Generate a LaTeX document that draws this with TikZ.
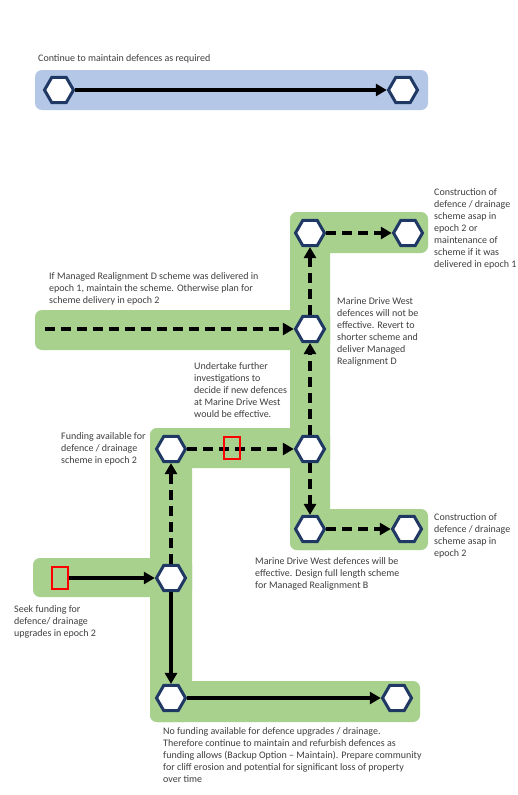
\documentclass[tikz,border=0pt]{standalone}
\usepackage{fontspec}
\setmainfont{Carlito}
\usetikzlibrary{arrows.meta,shapes.geometric}
\definecolor{bandgreen}{HTML}{A9D18E}
\definecolor{bandblue}{HTML}{B4C7E7}
\definecolor{hexnavy}{HTML}{1F3864}
\definecolor{txtgray}{HTML}{3F3F3F}
\begin{document}
\begin{tikzpicture}[x=1pt,y=-1pt,
 hex/.style={regular polygon,regular polygon sides=6,minimum size=29pt,inner sep=0pt,draw=hexnavy,line width=3pt,fill=white},
 flow/.style={line width=4pt,-{Triangle[length=11pt,width=12pt]}},
 dflow/.style={flow,dash pattern=on 10pt off 6pt},
 band/.style={fill=bandgreen,rounded corners=7pt},
 note/.style={font=\fontsize{10}{12}\selectfont,text=txtgray,align=left,anchor=north west,inner sep=0pt},
 redbox/.style={draw=red,line width=1.5pt,minimum width=16pt,minimum height=22pt,inner sep=0pt}]
\fill[white] (0,0) rectangle (517,795);
\useasboundingbox (0,0) rectangle (517,795);
% bands
\fill[bandblue,rounded corners=7pt] (35,70) rectangle (428,110);
\fill[band] (290,212) rectangle (330,550);
\fill[band] (290,212) rectangle (428,253);
\fill[band] (35,310) rectangle (330,350);
\fill[band] (290,509) rectangle (428,550);
\fill[band] (150,428) rectangle (330,468);
\fill[band] (150,428) rectangle (192,722);
\fill[band] (33,558) rectangle (192,597);
\fill[band] (150,681) rectangle (420,722);
% hexagons
\node[hex] (t1) at (59,90) {};
\node[hex] (t2) at (403,90) {};
\node[hex] (a1) at (310,233) {};
\node[hex] (a2) at (408,233) {};
\node[hex] (m) at (310,329) {};
\node[hex] (f) at (171,449) {};
\node[hex] (g) at (310,449) {};
\node[hex] (b1) at (310,529) {};
\node[hex] (b2) at (407,529) {};
\node[hex] (s) at (171,578) {};
\node[hex] (n1) at (171,698) {};
\node[hex] (n2) at (397,698) {};
\node[redbox] (r2) at (60,578) {};
\coordinate (mstart) at (45,329);
% connectors
\draw[flow] (t1) -- (t2);
\draw[dflow] (a1) -- (a2);
\draw[dflow] (m) -- (a1);
\draw[dflow] (mstart) -- (m);
\draw[dflow] (g) -- (m);
\draw[dflow] (g) -- (b1);
\draw[dflow] (b1) -- (b2);
\draw[dflow] (f) -- (g);
\draw[dflow] (s) -- (f);
\draw[flow] (s) -- (n1);
\draw[flow] (n1) -- (n2);
\draw[flow] (r2) -- (s);
\node[redbox] (r1) at (232,448) {};
% texts
\node[note] (tx0) at (38,54) {Continue to maintain defences as required};
\node[note] (tx1) at (434,188) {Construction of\\defence / drainage\\scheme asap in\\epoch 2 or\\maintenance of\\scheme if it was\\delivered in epoch 1};
\node[note] (tx2) at (49,272) {If Managed Realignment D scheme was delivered in\\epoch 1, maintain the scheme. Otherwise plan for\\scheme delivery in epoch 2};
\node[note] (tx3) at (337,297) {Marine Drive West\\defences will not be\\effective. Revert to\\shorter scheme and\\deliver Managed\\Realignment D};
\node[note] (tx4) at (194,362) {Undertake further\\investigations to\\decide if new defences\\at Marine Drive West\\would be effective.};
\node[note] (tx5) at (61,432) {Funding available for\\defence / drainage\\scheme in epoch 2};
\node[note] (tx6) at (255,557) {Marine Drive West defences will be\\effective. Design full length scheme\\for Managed Realignment B};
\node[note] (tx7) at (434,513) {Construction of\\defence / drainage\\scheme asap in\\epoch 2};
\node[note] (tx8) at (14,605) {Seek funding for\\defence/ drainage\\upgrades in epoch 2};
\node[note] (tx9) at (163,727) {No funding available for defence upgrades / drainage.\\Therefore continue to maintain and refurbish defences as\\funding allows (Backup Option – Maintain). Prepare community\\for cliff erosion and potential for significant loss of property\\over time};
\end{tikzpicture}
\end{document}
